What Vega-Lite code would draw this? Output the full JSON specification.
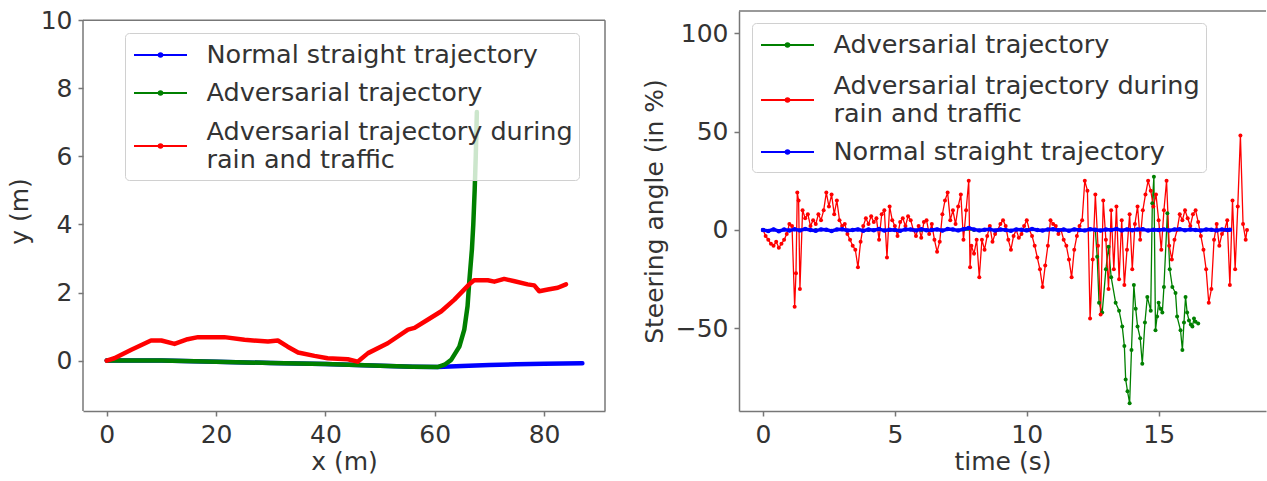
{
  "$schema": "https://vega.github.io/schema/vega-lite/v6.json",
  "background": "white",
  "padding": {"left": 7, "top": 8, "right": 0, "bottom": 0},
  "config": {
    "font": "DejaVu Sans",
    "view": {"stroke": null},
    "axis": {
      "labelFont": "DejaVu Sans", "labelFontSize": 25, "labelColor": "#333333",
      "titleFont": "DejaVu Sans", "titleFontSize": 25, "titleFontWeight": "normal", "titleColor": "#333333",
      "tickColor": "#777777", "tickSize": 5, "tickWidth": 1.5,
      "domainColor": "#777777", "domainWidth": 1.5, "grid": false,
      "labelPadding": 6, "titlePadding": 8
    },
    "axisX": {"titlePadding": 2},
    "legend": {
      "orient": "none", "title": null,
      "fillColor": "rgba(255,255,255,0.8)", "strokeColor": "#d0d0d0", "strokeWidth": 1, "cornerRadius": 4,
      "padding": 6,
      "symbolType": "M-1.767,0H1.767M0.12,0A0.12,0.12,0,1,1,-0.12,0A0.12,0.12,0,1,1,0.12,0",
      "symbolSize": 900, "symbolStrokeWidth": 2, "symbolOffset": 13.5,
      "labelFont": "DejaVu Sans", "labelFontSize": 25.5, "labelColor": "#333333",
      "labelLimit": 0, "labelOffset": 30, "rowPadding": 8
    }
  },
  "datasets": {
    "traj": [
      {"s": "N", "x": 0, "y": 0}, {"s": "N", "x": 10, "y": 0}, {"s": "N", "x": 20, "y": -0.03}, {"s": "N", "x": 30, "y": -0.07},
      {"s": "N", "x": 40, "y": -0.1}, {"s": "N", "x": 50, "y": -0.15}, {"s": "N", "x": 56, "y": -0.18}, {"s": "N", "x": 60.5, "y": -0.19},
      {"s": "N", "x": 65, "y": -0.16}, {"s": "N", "x": 70, "y": -0.13}, {"s": "N", "x": 75, "y": -0.11}, {"s": "N", "x": 80, "y": -0.09}, {"s": "N", "x": 87, "y": -0.08},
      {"s": "A", "x": 0, "y": 0}, {"s": "A", "x": 10, "y": 0}, {"s": "A", "x": 20, "y": -0.03}, {"s": "A", "x": 30, "y": -0.07},
      {"s": "A", "x": 40, "y": -0.1}, {"s": "A", "x": 50, "y": -0.15}, {"s": "A", "x": 56, "y": -0.18}, {"s": "A", "x": 60.5, "y": -0.19},
      {"s": "A", "x": 61.8, "y": -0.12}, {"s": "A", "x": 63, "y": 0.02}, {"s": "A", "x": 64.5, "y": 0.41}, {"s": "A", "x": 65.4, "y": 0.91},
      {"s": "A", "x": 66, "y": 1.6}, {"s": "A", "x": 66.3, "y": 2.29}, {"s": "A", "x": 66.8, "y": 3.27}, {"s": "A", "x": 67.05, "y": 4.0},
      {"s": "A", "x": 67.3, "y": 5.0}, {"s": "A", "x": 67.5, "y": 6.0}, {"s": "A", "x": 67.7, "y": 7.3},
      {"s": "R", "x": 0, "y": 0}, {"s": "R", "x": 1.4, "y": 0.07}, {"s": "R", "x": 4.5, "y": 0.32}, {"s": "R", "x": 8.1, "y": 0.59},
      {"s": "R", "x": 10, "y": 0.59}, {"s": "R", "x": 12.4, "y": 0.49}, {"s": "R", "x": 14.8, "y": 0.63}, {"s": "R", "x": 16.7, "y": 0.69},
      {"s": "R", "x": 21.5, "y": 0.69}, {"s": "R", "x": 25.2, "y": 0.61}, {"s": "R", "x": 29.5, "y": 0.56}, {"s": "R", "x": 31.3, "y": 0.59},
      {"s": "R", "x": 33.1, "y": 0.41}, {"s": "R", "x": 35, "y": 0.24}, {"s": "R", "x": 38, "y": 0.14}, {"s": "R", "x": 40.4, "y": 0.07},
      {"s": "R", "x": 44.1, "y": 0.04}, {"s": "R", "x": 45.9, "y": -0.03}, {"s": "R", "x": 47.8, "y": 0.22}, {"s": "R", "x": 51.4, "y": 0.51},
      {"s": "R", "x": 55.1, "y": 0.91}, {"s": "R", "x": 56.3, "y": 0.96}, {"s": "R", "x": 58.7, "y": 1.2}, {"s": "R", "x": 61.2, "y": 1.45},
      {"s": "R", "x": 63.6, "y": 1.79}, {"s": "R", "x": 66.3, "y": 2.24}, {"s": "R", "x": 67.2, "y": 2.36}, {"s": "R", "x": 69.7, "y": 2.36},
      {"s": "R", "x": 70.9, "y": 2.32}, {"s": "R", "x": 72.7, "y": 2.4}, {"s": "R", "x": 74.6, "y": 2.33}, {"s": "R", "x": 77, "y": 2.24},
      {"s": "R", "x": 78.2, "y": 2.21}, {"s": "R", "x": 79.1, "y": 2.04}, {"s": "R", "x": 80.7, "y": 2.09}, {"s": "R", "x": 82.5, "y": 2.14}, {"s": "R", "x": 84, "y": 2.24}
    ],
    "steer": [
      {"s": "A", "t": 0, "v": 0}, {"s": "A", "t": 2, "v": 0}, {"s": "A", "t": 4, "v": 0}, {"s": "A", "t": 6, "v": 0}, {"s": "A", "t": 8, "v": 0},
      {"s": "A", "t": 10, "v": 0}, {"s": "A", "t": 12, "v": 0}, {"s": "A", "t": 12.6, "v": 0},
      {"s": "A", "t": 12.67, "v": -13.6}, {"s": "A", "t": 12.74, "v": -37}, {"s": "A", "t": 12.86, "v": -42}, {"s": "A", "t": 13.0, "v": -20},
      {"s": "A", "t": 13.1, "v": -8.5}, {"s": "A", "t": 13.2, "v": -24}, {"s": "A", "t": 13.37, "v": -37}, {"s": "A", "t": 13.5, "v": -41},
      {"s": "A", "t": 13.62, "v": -49}, {"s": "A", "t": 13.7, "v": -59}, {"s": "A", "t": 13.75, "v": -76}, {"s": "A", "t": 13.82, "v": -82},
      {"s": "A", "t": 13.9, "v": -88}, {"s": "A", "t": 13.97, "v": -61}, {"s": "A", "t": 14.06, "v": -28}, {"s": "A", "t": 14.13, "v": -40},
      {"s": "A", "t": 14.2, "v": -49}, {"s": "A", "t": 14.3, "v": -55}, {"s": "A", "t": 14.38, "v": -68}, {"s": "A", "t": 14.48, "v": -47},
      {"s": "A", "t": 14.57, "v": -34}, {"s": "A", "t": 14.7, "v": -41}, {"s": "A", "t": 14.76, "v": 13.6}, {"s": "A", "t": 14.82, "v": 27},
      {"s": "A", "t": 14.88, "v": -51}, {"s": "A", "t": 14.94, "v": -44}, {"s": "A", "t": 15.0, "v": -37}, {"s": "A", "t": 15.07, "v": -40},
      {"s": "A", "t": 15.14, "v": -42}, {"s": "A", "t": 15.2, "v": -29}, {"s": "A", "t": 15.33, "v": 8.5}, {"s": "A", "t": 15.42, "v": -20},
      {"s": "A", "t": 15.52, "v": -29}, {"s": "A", "t": 15.64, "v": -32}, {"s": "A", "t": 15.7, "v": -44}, {"s": "A", "t": 15.83, "v": -51},
      {"s": "A", "t": 15.9, "v": -61}, {"s": "A", "t": 15.96, "v": -47}, {"s": "A", "t": 16.02, "v": -34}, {"s": "A", "t": 16.08, "v": -42},
      {"s": "A", "t": 16.15, "v": -46}, {"s": "A", "t": 16.22, "v": -48}, {"s": "A", "t": 16.28, "v": -49}, {"s": "A", "t": 16.34, "v": -45},
      {"s": "A", "t": 16.4, "v": -46.6}, {"s": "A", "t": 16.5, "v": -47.5},
      {"s": "R", "t": 0.0, "v": 0}, {"s": "R", "t": 0.1, "v": -3}, {"s": "R", "t": 0.2, "v": -5}, {"s": "R", "t": 0.3, "v": -7},
      {"s": "R", "t": 0.4, "v": -8}, {"s": "R", "t": 0.5, "v": -6}, {"s": "R", "t": 0.6, "v": -9}, {"s": "R", "t": 0.7, "v": -7},
      {"s": "R", "t": 0.8, "v": -5}, {"s": "R", "t": 0.9, "v": -2}, {"s": "R", "t": 1.0, "v": 3}, {"s": "R", "t": 1.1, "v": 2},
      {"s": "R", "t": 1.2, "v": -39}, {"s": "R", "t": 1.25, "v": -22}, {"s": "R", "t": 1.3, "v": 19}, {"s": "R", "t": 1.35, "v": 15},
      {"s": "R", "t": 1.4, "v": -30}, {"s": "R", "t": 1.5, "v": 10}, {"s": "R", "t": 1.6, "v": 6}, {"s": "R", "t": 1.7, "v": 8},
      {"s": "R", "t": 1.8, "v": 2}, {"s": "R", "t": 1.9, "v": 5}, {"s": "R", "t": 2.0, "v": 3}, {"s": "R", "t": 2.1, "v": 8},
      {"s": "R", "t": 2.2, "v": 5}, {"s": "R", "t": 2.3, "v": 10}, {"s": "R", "t": 2.4, "v": 19}, {"s": "R", "t": 2.5, "v": 12},
      {"s": "R", "t": 2.6, "v": 18}, {"s": "R", "t": 2.7, "v": 8}, {"s": "R", "t": 2.8, "v": 15}, {"s": "R", "t": 2.9, "v": 5},
      {"s": "R", "t": 3.0, "v": 2}, {"s": "R", "t": 3.1, "v": 3}, {"s": "R", "t": 3.2, "v": -2}, {"s": "R", "t": 3.3, "v": -5},
      {"s": "R", "t": 3.4, "v": -8}, {"s": "R", "t": 3.5, "v": -10}, {"s": "R", "t": 3.6, "v": -19}, {"s": "R", "t": 3.7, "v": -6},
      {"s": "R", "t": 3.8, "v": 2}, {"s": "R", "t": 3.9, "v": 6}, {"s": "R", "t": 4.0, "v": 3}, {"s": "R", "t": 4.1, "v": 7},
      {"s": "R", "t": 4.2, "v": 4}, {"s": "R", "t": 4.3, "v": 6}, {"s": "R", "t": 4.4, "v": -5}, {"s": "R", "t": 4.5, "v": 8},
      {"s": "R", "t": 4.6, "v": 10}, {"s": "R", "t": 4.7, "v": -14}, {"s": "R", "t": 4.8, "v": 12}, {"s": "R", "t": 4.9, "v": 5},
      {"s": "R", "t": 5.0, "v": 2}, {"s": "R", "t": 5.1, "v": -3}, {"s": "R", "t": 5.2, "v": 4}, {"s": "R", "t": 5.3, "v": 6},
      {"s": "R", "t": 5.4, "v": 2}, {"s": "R", "t": 5.5, "v": 7}, {"s": "R", "t": 5.6, "v": 5}, {"s": "R", "t": 5.7, "v": 0},
      {"s": "R", "t": 5.8, "v": -3}, {"s": "R", "t": 5.9, "v": 2}, {"s": "R", "t": 6.0, "v": -4}, {"s": "R", "t": 6.1, "v": 4},
      {"s": "R", "t": 6.2, "v": 5}, {"s": "R", "t": 6.3, "v": -2}, {"s": "R", "t": 6.4, "v": 3}, {"s": "R", "t": 6.5, "v": -5},
      {"s": "R", "t": 6.6, "v": -11}, {"s": "R", "t": 6.7, "v": -6}, {"s": "R", "t": 6.8, "v": 8}, {"s": "R", "t": 6.9, "v": 15},
      {"s": "R", "t": 7.0, "v": 19}, {"s": "R", "t": 7.1, "v": 5}, {"s": "R", "t": 7.2, "v": 10}, {"s": "R", "t": 7.3, "v": 3},
      {"s": "R", "t": 7.4, "v": 12}, {"s": "R", "t": 7.5, "v": 18}, {"s": "R", "t": 7.6, "v": -5}, {"s": "R", "t": 7.7, "v": 10},
      {"s": "R", "t": 7.8, "v": 25}, {"s": "R", "t": 7.85, "v": -19}, {"s": "R", "t": 7.9, "v": -8}, {"s": "R", "t": 8.0, "v": -12},
      {"s": "R", "t": 8.1, "v": -5}, {"s": "R", "t": 8.2, "v": -24}, {"s": "R", "t": 8.3, "v": -5}, {"s": "R", "t": 8.4, "v": -10},
      {"s": "R", "t": 8.5, "v": -3}, {"s": "R", "t": 8.6, "v": 2}, {"s": "R", "t": 8.7, "v": -6}, {"s": "R", "t": 8.8, "v": -2},
      {"s": "R", "t": 8.9, "v": 0}, {"s": "R", "t": 9.0, "v": 3}, {"s": "R", "t": 9.1, "v": 5}, {"s": "R", "t": 9.2, "v": 2},
      {"s": "R", "t": 9.3, "v": -5}, {"s": "R", "t": 9.4, "v": -10}, {"s": "R", "t": 9.5, "v": -3}, {"s": "R", "t": 9.6, "v": 0},
      {"s": "R", "t": 9.7, "v": -4}, {"s": "R", "t": 9.8, "v": -2}, {"s": "R", "t": 9.9, "v": 2}, {"s": "R", "t": 10.0, "v": 5},
      {"s": "R", "t": 10.1, "v": 0}, {"s": "R", "t": 10.2, "v": -3}, {"s": "R", "t": 10.3, "v": -8}, {"s": "R", "t": 10.4, "v": -14},
      {"s": "R", "t": 10.5, "v": -20}, {"s": "R", "t": 10.6, "v": -29}, {"s": "R", "t": 10.7, "v": -18}, {"s": "R", "t": 10.8, "v": -8},
      {"s": "R", "t": 10.9, "v": 5}, {"s": "R", "t": 11.0, "v": 3}, {"s": "R", "t": 11.1, "v": 2}, {"s": "R", "t": 11.2, "v": -2},
      {"s": "R", "t": 11.3, "v": 0}, {"s": "R", "t": 11.4, "v": -5}, {"s": "R", "t": 11.5, "v": -8}, {"s": "R", "t": 11.6, "v": -15},
      {"s": "R", "t": 11.7, "v": -24}, {"s": "R", "t": 11.8, "v": -10}, {"s": "R", "t": 11.9, "v": -3}, {"s": "R", "t": 12.0, "v": 2},
      {"s": "R", "t": 12.1, "v": 5}, {"s": "R", "t": 12.2, "v": 25}, {"s": "R", "t": 12.3, "v": 20}, {"s": "R", "t": 12.4, "v": -45},
      {"s": "R", "t": 12.5, "v": -15}, {"s": "R", "t": 12.6, "v": 18}, {"s": "R", "t": 12.7, "v": -8}, {"s": "R", "t": 12.8, "v": -43},
      {"s": "R", "t": 12.9, "v": 15}, {"s": "R", "t": 13.0, "v": -5}, {"s": "R", "t": 13.1, "v": -30}, {"s": "R", "t": 13.2, "v": 10},
      {"s": "R", "t": 13.3, "v": -20}, {"s": "R", "t": 13.4, "v": 12}, {"s": "R", "t": 13.5, "v": -25}, {"s": "R", "t": 13.6, "v": 5},
      {"s": "R", "t": 13.7, "v": -28}, {"s": "R", "t": 13.8, "v": -10}, {"s": "R", "t": 13.9, "v": 8}, {"s": "R", "t": 14.0, "v": -20},
      {"s": "R", "t": 14.1, "v": 3}, {"s": "R", "t": 14.2, "v": 12}, {"s": "R", "t": 14.3, "v": -5}, {"s": "R", "t": 14.4, "v": 10},
      {"s": "R", "t": 14.5, "v": 18}, {"s": "R", "t": 14.6, "v": 25}, {"s": "R", "t": 14.7, "v": 20}, {"s": "R", "t": 14.8, "v": 12},
      {"s": "R", "t": 14.9, "v": 18}, {"s": "R", "t": 15.0, "v": 5}, {"s": "R", "t": 15.1, "v": -10}, {"s": "R", "t": 15.2, "v": 10},
      {"s": "R", "t": 15.3, "v": 25}, {"s": "R", "t": 15.4, "v": -8}, {"s": "R", "t": 15.5, "v": -15}, {"s": "R", "t": 15.6, "v": -5},
      {"s": "R", "t": 15.7, "v": 0}, {"s": "R", "t": 15.8, "v": 8}, {"s": "R", "t": 15.9, "v": 5}, {"s": "R", "t": 16.0, "v": 10},
      {"s": "R", "t": 16.1, "v": 6}, {"s": "R", "t": 16.2, "v": 2}, {"s": "R", "t": 16.3, "v": 8}, {"s": "R", "t": 16.4, "v": 10},
      {"s": "R", "t": 16.5, "v": 4}, {"s": "R", "t": 16.6, "v": -3}, {"s": "R", "t": 16.7, "v": -10}, {"s": "R", "t": 16.8, "v": -20},
      {"s": "R", "t": 16.9, "v": -37}, {"s": "R", "t": 17.0, "v": -30}, {"s": "R", "t": 17.1, "v": -5}, {"s": "R", "t": 17.2, "v": 3},
      {"s": "R", "t": 17.3, "v": -8}, {"s": "R", "t": 17.4, "v": -2}, {"s": "R", "t": 17.5, "v": 0}, {"s": "R", "t": 17.6, "v": 5},
      {"s": "R", "t": 17.7, "v": -28}, {"s": "R", "t": 17.8, "v": 15}, {"s": "R", "t": 17.9, "v": -20}, {"s": "R", "t": 18.0, "v": 12},
      {"s": "R", "t": 18.1, "v": 48}, {"s": "R", "t": 18.2, "v": 3}, {"s": "R", "t": 18.3, "v": -5}, {"s": "R", "t": 18.35, "v": 0}
    ],
    "straight": [
      {"s": "N", "t": 0.0, "v": 0}, {"s": "N", "t": 0.2, "v": -0.5}, {"s": "N", "t": 0.4, "v": 0.3}, {"s": "N", "t": 0.6, "v": -0.6},
      {"s": "N", "t": 0.8, "v": 0.2}, {"s": "N", "t": 1.0, "v": -0.3}, {"s": "N", "t": 1.2, "v": 0.4}, {"s": "N", "t": 1.4, "v": -0.2},
      {"s": "N", "t": 1.6, "v": 0.5}, {"s": "N", "t": 1.8, "v": 0}, {"s": "N", "t": 2.0, "v": -0.4}, {"s": "N", "t": 2.2, "v": 0.3},
      {"s": "N", "t": 2.4, "v": 0.1}, {"s": "N", "t": 2.6, "v": -0.5}, {"s": "N", "t": 2.8, "v": 0.2}, {"s": "N", "t": 3.0, "v": 0.4},
      {"s": "N", "t": 3.2, "v": -0.2}, {"s": "N", "t": 3.4, "v": 0}, {"s": "N", "t": 3.6, "v": 0.3}, {"s": "N", "t": 3.8, "v": -0.4},
      {"s": "N", "t": 4.0, "v": 0.2}, {"s": "N", "t": 4.2, "v": -0.1}, {"s": "N", "t": 4.4, "v": 0.5}, {"s": "N", "t": 4.6, "v": -0.3},
      {"s": "N", "t": 4.8, "v": 0.1}, {"s": "N", "t": 5.0, "v": 0}, {"s": "N", "t": 5.2, "v": -0.4}, {"s": "N", "t": 5.4, "v": 0.3},
      {"s": "N", "t": 5.6, "v": 0.2}, {"s": "N", "t": 5.8, "v": -0.2}, {"s": "N", "t": 6.0, "v": 0.4}, {"s": "N", "t": 6.2, "v": -0.1},
      {"s": "N", "t": 6.4, "v": 0}, {"s": "N", "t": 6.6, "v": 0.3}, {"s": "N", "t": 6.8, "v": -0.3}, {"s": "N", "t": 7.0, "v": 0.5},
      {"s": "N", "t": 7.2, "v": 0.2}, {"s": "N", "t": 7.4, "v": -0.2}, {"s": "N", "t": 7.6, "v": 0.4}, {"s": "N", "t": 7.8, "v": 1.0},
      {"s": "N", "t": 8.0, "v": 0.3}, {"s": "N", "t": 8.2, "v": -0.2}, {"s": "N", "t": 8.4, "v": 0.1}, {"s": "N", "t": 8.6, "v": 0.4},
      {"s": "N", "t": 8.8, "v": -0.3}, {"s": "N", "t": 9.0, "v": 0.2}, {"s": "N", "t": 9.2, "v": 0}, {"s": "N", "t": 9.4, "v": -0.4},
      {"s": "N", "t": 9.6, "v": 0.3}, {"s": "N", "t": 9.8, "v": 0.1}, {"s": "N", "t": 10.0, "v": -0.2}, {"s": "N", "t": 10.2, "v": 0.5},
      {"s": "N", "t": 10.4, "v": 0}, {"s": "N", "t": 10.6, "v": -0.3}, {"s": "N", "t": 10.8, "v": 0.2}, {"s": "N", "t": 11.0, "v": 0.4},
      {"s": "N", "t": 11.2, "v": -0.1}, {"s": "N", "t": 11.4, "v": 0.2}, {"s": "N", "t": 11.6, "v": -0.4}, {"s": "N", "t": 11.8, "v": 0.3},
      {"s": "N", "t": 12.0, "v": 0}, {"s": "N", "t": 12.2, "v": -0.2}, {"s": "N", "t": 12.4, "v": 0.4}, {"s": "N", "t": 12.6, "v": 0.1},
      {"s": "N", "t": 12.8, "v": -0.3}, {"s": "N", "t": 13.0, "v": 0.2}, {"s": "N", "t": 13.2, "v": 0}, {"s": "N", "t": 13.4, "v": 0.5},
      {"s": "N", "t": 13.6, "v": -0.2}, {"s": "N", "t": 13.8, "v": 0.3}, {"s": "N", "t": 14.0, "v": -0.1}, {"s": "N", "t": 14.2, "v": 0.2},
      {"s": "N", "t": 14.4, "v": 0.4}, {"s": "N", "t": 14.6, "v": -0.3}, {"s": "N", "t": 14.8, "v": 0.1}, {"s": "N", "t": 15.0, "v": 0},
      {"s": "N", "t": 15.2, "v": 0.3}, {"s": "N", "t": 15.4, "v": -0.2}, {"s": "N", "t": 15.6, "v": 0.2}, {"s": "N", "t": 15.8, "v": 0.4},
      {"s": "N", "t": 16.0, "v": -0.1}, {"s": "N", "t": 16.2, "v": 0.3}, {"s": "N", "t": 16.4, "v": 0}, {"s": "N", "t": 16.6, "v": -0.3},
      {"s": "N", "t": 16.8, "v": 0.2}, {"s": "N", "t": 17.0, "v": 0.1}, {"s": "N", "t": 17.2, "v": -0.2}, {"s": "N", "t": 17.4, "v": 0.3},
      {"s": "N", "t": 17.6, "v": 0}, {"s": "N", "t": 17.7, "v": 0.1}
    ],
    "one": [{}]
  },
  "spacing": 36,
  "resolve": {"scale": {"color": "independent"}, "legend": {"color": "independent"}},
  "hconcat": [
    {
      "width": 522,
      "height": 400,
      "layer": [
        {
          "data": {"name": "traj"},
          "mark": {"type": "line", "strokeWidth": 4.5, "strokeCap": "round", "strokeJoin": "round"},
          "encoding": {
            "x": {"field": "x", "type": "quantitative", "scale": {"domain": [-4.34, 91.14], "nice": false, "zero": false},
                  "axis": {"title": "x (m)", "values": [0, 20, 40, 60, 80]}},
            "y": {"field": "y", "type": "quantitative", "scale": {"domain": [-1.48, 10.27], "nice": false, "zero": false},
                  "axis": {"title": "y (m)", "values": [0, 2, 4, 6, 8, 10], "domain": false}},
            "color": {"field": "s", "type": "nominal",
                      "scale": {"domain": ["N", "A", "R"], "range": ["#0000ff", "#008000", "#ff0000"]},
                      "legend": {"legendX": 42, "legendY": 22,
                                 "labelExpr": "datum.label == 'N' ? 'Normal straight trajectory' : datum.label == 'A' ? ['Adversarial trajectory', ''] : ['Adversarial trajectory during\u00a0\u00a0\u00a0\u00a0', 'rain and traffic']",
                                 "encode": {"labels": {"update": {"dy": {"signal": "datum.value === 'R' ? -14 : 0"}, "lineHeight": {"signal": "datum.value === 'A' ? 5 : 28"}}}}}}
          }
        },
        {"data": {"name": "one"}, "mark": {"type": "rule", "color": "#777777", "strokeWidth": 1.5},
         "encoding": {"y": {"datum": 10}}},
        {"data": {"name": "one"}, "mark": {"type": "rule", "color": "#777777", "strokeWidth": 1.5},
         "encoding": {"x": {"datum": -4.34}, "y": {"datum": -1.48}, "y2": {"datum": 10}}},
        {"data": {"name": "one"}, "mark": {"type": "rule", "color": "#777777", "strokeWidth": 1.5},
         "encoding": {"x": {"datum": 91.14}, "y": {"datum": -1.48}, "y2": {"datum": 10}}}
      ]
    },
    {
      "width": 527,
      "height": 400,
      "layer": [
        {
          "data": {"name": "steer"},
          "mark": {"type": "line", "strokeWidth": 1.3, "point": {"size": 16, "filled": true}},
          "encoding": {
            "x": {"field": "t", "type": "quantitative", "scale": {"domain": [-0.91, 19.07], "nice": false, "zero": false},
                  "axis": {"title": "time (s)", "values": [0, 5, 10, 15]}},
            "y": {"field": "v", "type": "quantitative", "scale": {"domain": [-92, 111.3], "nice": false, "zero": false},
                  "axis": {"title": "Steering angle (in %)", "values": [-50, 0, 50, 100]}},
            "color": {"field": "s", "type": "nominal",
                      "scale": {"domain": ["A", "R", "N"], "range": ["#008000", "#ff0000", "#0000ff"]},
                      "legend": {"legendX": 13, "legendY": 12,
                                 "labelExpr": "datum.label == 'N' ? 'Normal straight trajectory' : datum.label == 'A' ? ['Adversarial trajectory', ''] : ['Adversarial trajectory during\u00a0\u00a0\u00a0\u00a0', 'rain and traffic']",
                                 "encode": {"labels": {"update": {"dy": {"signal": "datum.value === 'R' ? -14 : 0"}, "lineHeight": {"signal": "datum.value === 'A' ? 7 : 28"}}}}}}
          }
        },
        {
          "data": {"name": "straight"},
          "mark": {"type": "line", "strokeWidth": 3.5, "point": {"size": 20, "filled": true}},
          "encoding": {
            "x": {"field": "t", "type": "quantitative"},
            "y": {"field": "v", "type": "quantitative"},
            "color": {"field": "s", "type": "nominal"}
          }
        },
        {"data": {"name": "one"}, "mark": {"type": "rule", "color": "#777777", "strokeWidth": 1.5},
         "encoding": {"y": {"datum": 111.3}}}
      ]
    }
  ]
}
